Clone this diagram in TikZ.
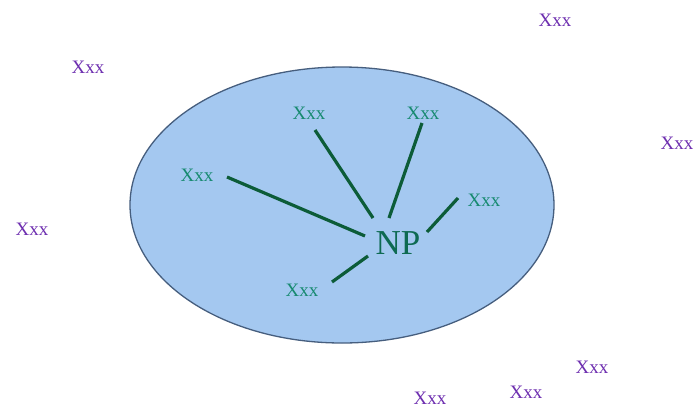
\documentclass[tikz,border=0pt]{standalone}
\usepackage{fontspec}
\setmainfont{Liberation Serif}
\definecolor{outerpurple}{HTML}{6E2FB0}
\definecolor{innergreen}{HTML}{178A70}
\definecolor{npgreen}{HTML}{0E6A52}
\definecolor{linkgreen}{HTML}{0C5C38}
\definecolor{ellfill}{HTML}{A4C8F0}
\definecolor{elldraw}{HTML}{465E7E}
\tikzset{
  outer/.style={text=outerpurple, font=\fontsize{19}{19}\selectfont, inner sep=0pt},
  inner/.style={text=innergreen, font=\fontsize{19}{19}\selectfont, inner sep=0pt},
  npnode/.style={text=npgreen, font=\fontsize{35}{35}\selectfont, inner sep=0pt},
  link/.style={draw=linkgreen, line width=3.2pt},
}
\begin{document}
\begin{tikzpicture}[x=1pt,y=-1pt]
\useasboundingbox (0,0) rectangle (695,408);
\fill[white] (0,0) rectangle (695,408);
\draw[fill=ellfill, draw=elldraw, line width=1.3pt] (342,205) ellipse [x radius=212, y radius=138];

% outer labels
\node[outer] (o1) at (555,20) {Xxx};
\node[outer] (o2) at (88,67) {Xxx};
\node[outer] (o3) at (677,143) {Xxx};
\node[outer] (o4) at (32,229) {Xxx};
\node[outer] (o5) at (592,367) {Xxx};
\node[outer] (o6) at (526,392) {Xxx};
\node[outer] (o7) at (430,398) {Xxx};

% inner labels
\node[npnode] (np) at (398,243) {NP};
\node[inner] (a) at (197,175) {Xxx};
\node[inner] (b) at (309,113) {Xxx};
\node[inner] (c) at (423,113) {Xxx};
\node[inner] (d) at (484,200) {Xxx};
\node[inner] (e) at (302,290) {Xxx};

% links
\draw[link] ([shift={(30,2)}]a.center) -- ([shift={(-33,-7)}]np.center);
\draw[link] ([shift={(6,17)}]b.center) -- ([shift={(-25,-25)}]np.center);
\draw[link] ([shift={(-1,10)}]c.center) -- ([shift={(-9,-25)}]np.center);
\draw[link] ([shift={(-26,-2)}]d.center) -- ([shift={(29,-11)}]np.center);
\draw[link] ([shift={(30,-8)}]e.center) -- ([shift={(-30,13)}]np.center);
\end{tikzpicture}
\end{document}
